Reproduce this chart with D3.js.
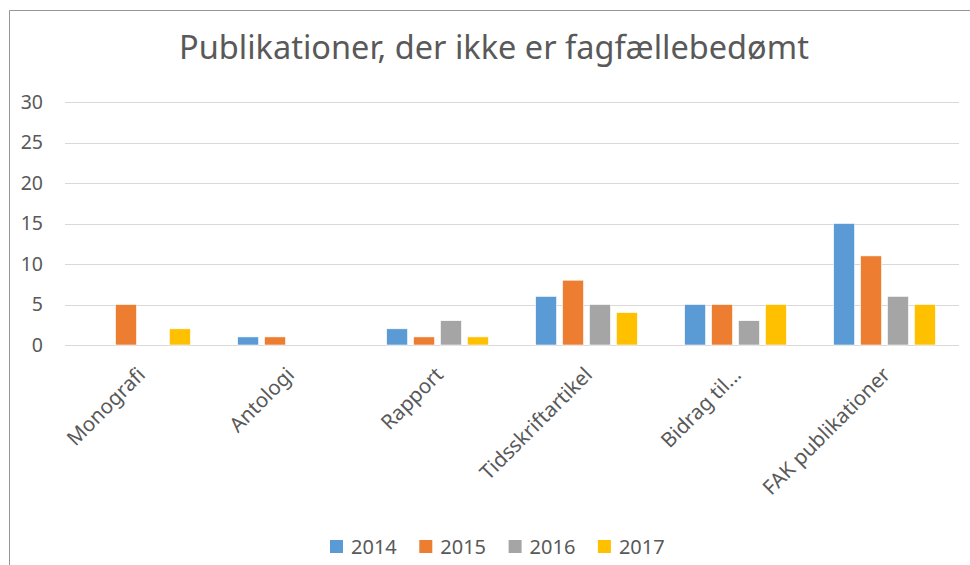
<!DOCTYPE html>
<html>
<head>
<meta charset="utf-8">
<script src="https://cdn.jsdelivr.net/npm/d3@7"></script>
<style>
  body { margin: 0; background: #fff; }
  text { font-family: "Noto Sans", "Open Sans", sans-serif; fill: #595959; }
</style>
</head>
<body>
<div id="chart"></div>
<script>
// data
const categories = ["Monografi", "Antologi", "Rapport", "Tidsskriftartikel", "Bidrag til...", "FAK publikationer"];
const years = ["2014", "2015", "2016", "2017"];
const values2014 = [0, 1, 2, 6, 5, 15];
const values2015 = [5, 1, 1, 8, 5, 11];
const values2016 = [0, 0, 3, 5, 3, 6];
const values2017 = [2, 0, 1, 4, 5, 5];
const yTicks = [0, 5, 10, 15, 20, 25, 30];
const colors = ["#5B9BD5", "#ED7D31", "#A5A5A5", "#FFC000"];

const series = [values2014, values2015, values2016, values2017];

// dimensions
const w = 970;
const h = 565;
const padLeft = 65;
const padRight = 11;
const padTop = 102;
const axisY = 345;

const svg = d3.select("#chart")
  .append("svg")
  .attr("width", w)
  .attr("height", h);

// frame (left + top border)
svg.append("path")
  .attr("d", `M9.5,${h} V10.5 H${w}`)
  .attr("fill", "none")
  .attr("stroke", "#959595")
  .attr("stroke-width", 1);

// title
svg.append("text")
  .text("Publikationer, der ikke er fagfællebedømt")
  .attr("x", 494)
  .attr("y", 59)
  .attr("text-anchor", "middle")
  .style("font-size", "32.5px");

// scales
const yScale = d3.scaleLinear()
  .domain([0, 30])
  .range([axisY, padTop]);

const x0 = d3.scaleBand()
  .domain(categories)
  .range([padLeft, w - padRight]);

const x1 = d3.scaleBand()
  .domain(years)
  .range([0, x0.bandwidth()])
  .paddingInner(0.222)
  .paddingOuter(0.878);

// gridlines
svg.append("g")
  .selectAll("line")
  .data(yTicks)
  .enter()
  .append("line")
  .attr("x1", padLeft)
  .attr("x2", w - padRight)
  .attr("y1", d => Math.round(yScale(d)) + 0.5)
  .attr("y2", d => Math.round(yScale(d)) + 0.5)
  .attr("stroke", "#d9d9d9")
  .attr("stroke-width", 1);

// y axis labels
const yAxis = d3.axisLeft(yScale).tickValues(yTicks).tickSize(0).tickPadding(0);
const yg = svg.append("g")
  .attr("transform", `translate(43, 0)`)
  .call(yAxis);
yg.select(".domain").remove();
yg.selectAll("text")
  .style("font-size", "19.5px")
  .style("font-family", "'Noto Sans', sans-serif")
  .attr("fill", "#595959");

// bars
const groups = svg.append("g")
  .selectAll("g")
  .data(categories)
  .enter()
  .append("g")
  .attr("transform", c => `translate(${x0(c)}, 0)`);

groups.selectAll("rect")
  .data((c, i) => years.map((y, j) => ({ year: y, value: series[j][i], color: colors[j] })))
  .enter()
  .filter(d => d.value > 0)
  .append("rect")
  .attr("x", d => x1(d.year))
  .attr("width", x1.bandwidth())
  .attr("y", d => yScale(d.value))
  .attr("height", d => yScale(0) - yScale(d.value))
  .attr("fill", d => d.color)
  .attr("stroke", "#ffffff")
  .attr("stroke-width", 0.6);

// x axis labels (rotated)
const xAxis = d3.axisBottom(x0).tickSize(0).tickPadding(0);
const xg = svg.append("g")
  .attr("transform", `translate(0, ${axisY})`)
  .call(xAxis);
xg.select(".domain").remove();
xg.selectAll("text")
  .attr("text-anchor", "end")
  .attr("dy", null)
  .attr("y", null)
  .attr("transform", "translate(7, 31) rotate(-45)")
  .style("font-size", "20.5px")
  .style("font-family", "'Noto Sans', sans-serif")
  .attr("fill", "#595959");

// legend
const legend = svg.append("g")
  .attr("transform", "translate(330, 540)");
const legendItems = legend.selectAll("g")
  .data(years)
  .enter()
  .append("g")
  .attr("transform", (d, i) => `translate(${i * 89.3}, 0)`);
legendItems.append("rect")
  .attr("width", 13)
  .attr("height", 13)
  .attr("fill", (d, i) => colors[i]);
legendItems.append("text")
  .text(d => d)
  .attr("x", 21)
  .attr("y", 13.5)
  .style("font-size", "20px");
</script>
</body>
</html>
